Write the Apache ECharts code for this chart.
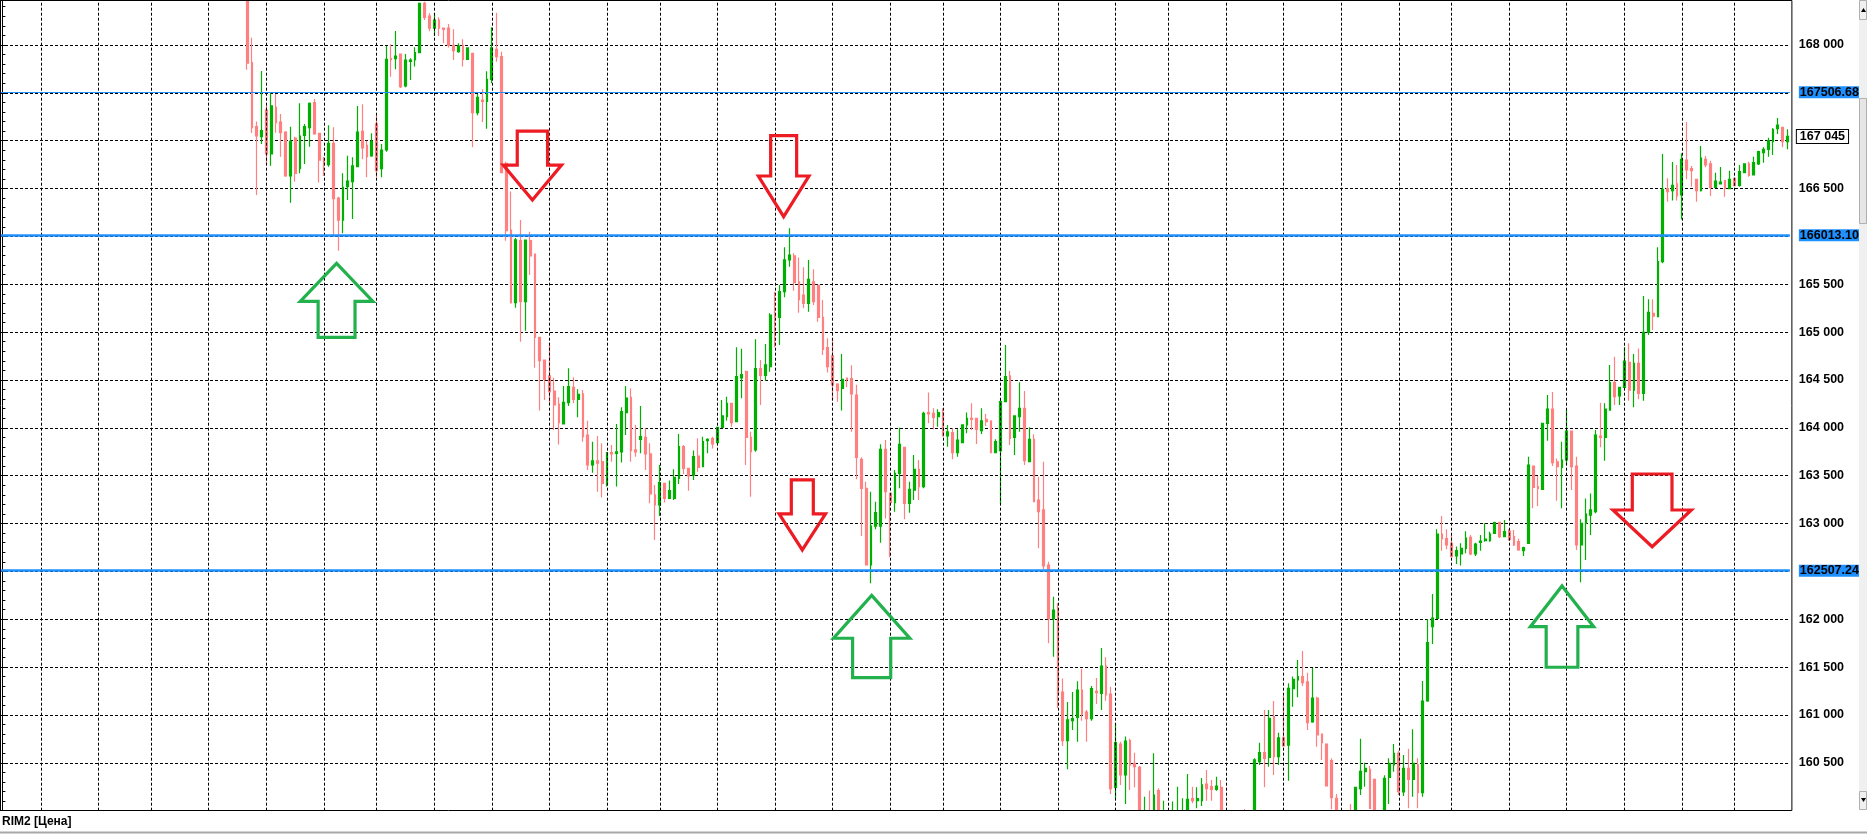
<!DOCTYPE html>
<html><head><meta charset="utf-8">
<script src="https://cdn.jsdelivr.net/npm/echarts@6/dist/echarts.min.js"></script>
<style>html,body{margin:0;padding:0;background:#fff;overflow:hidden}#chart{width:1867px;height:834px}</style>
</head><body><div id="chart"></div>
<script>
const symbolLabel = 'RIM2 [Цена]';
const firstBar = 51;
const slotCount = 373;
// [open, high, low, close] from bar 51 onward
const ohlc = [
[168500,168600,167740,167810],[167815,168076,167080,167136],[167147,167200,166433,167049],[167042,167728,166966,167105],
[167321,167362,166746,166861],[166861,167495,166739,167363],[167349,167488,167084,167188],[167195,167279,166833,167084],
[167091,167100,166624,166631],[166631,167147,166353,166993],[167028,167040,166572,166659],[166708,167390,166659,167049],
[167056,167175,166757,167147],[167136,167400,166938,167390],[167397,167436,167063,167070],[167077,167080,166562,166798],
[166805,166830,166631,166750],[166750,167161,166729,166973],[166973,167140,165997,166394],[166401,166415,165851,166171],
[166171,166659,166032,166513],[166520,166844,166380,166579],[166572,166826,166182,166736],[166729,167363,166729,167091],
[167098,167380,166805,166924],[166952,167000,166617,166833],[166840,167077,166833,166993],[167175,167265,166617,166687],
[166708,166966,166617,166903],[166903,167989,166885,167850],[167857,168007,167669,167847],[167857,168146,167746,167885],
[167906,167910,167551,167565],[167572,167906,167558,167843],[167829,167861,167634,167843],[167843,167976,167774,167920],
[167920,168442,167913,168435],[168435,168453,168261,168289],[168303,168331,168143,168177],[168177,168331,168094,168261],
[168261,168289,168094,168177],[168177,168180,168017,168164],[168177,168219,167975,167996],[167996,168164,167843,167941],
[167930,168017,167920,167989],[167996,168059,167774,167850],[167850,167976,167843,167969],[167913,167920,166931,167293],
[167293,167488,167265,167453],[167425,167537,167195,167411],[167411,167725,167126,167641],[167641,168184,167600,167969],
[167955,168338,167826,167878],[167878,167930,166659,166666],[166764,166780,165956,166060],[166067,166468,165300,165308],
[165308,165984,165256,165963],[165956,166172,164900,165318],[165318,165969,165015,165962],[165956,166050,165597,165796],
[165816,165820,164629,164946],[164946,164950,164180,164702],[164709,164710,164291,164507],[164542,164890,164256,164378],
[164385,164524,163978,164239],[164249,164319,163825,164054],[164040,164437,164040,164267],[164263,164622,164228,164430],
[164423,164528,164256,164298],[164298,164403,164110,164350],[164354,164396,163856,163908],[163925,164075,163560,163612],
[163612,163856,163532,163654],[163654,163915,163333,163630],[163647,163838,163271,163420],[163420,163741,163386,163741],
[163741,163821,163647,163727],[163734,164040,163386,163748],[163748,164214,163637,164169],[164159,164437,163925,164312],
[164319,164410,163647,163762],[163769,164030,163699,163748],[163880,164228,163734,163908],[163901,163995,163560,163727],
[163727,163838,163211,163309],[163299,163403,162828,163194],[163194,163612,163079,163427],[163420,163425,163219,163264],
[163264,163449,163260,163344],[163264,163567,163247,163483],[163473,163936,163413,163804],[163804,163821,163518,163577],
[163577,163580,163344,163497],[163507,163762,163455,163699],[163706,163890,163542,163588],[163594,163908,163594,163856],
[163866,163890,163734,163880],[163887,163908,163783,163831],[163845,164005,163838,164005],[164005,164291,164005,164124],
[164117,164326,164075,164256],[164256,164256,164012,164054],[164065,164841,164065,164535],[164521,164827,164308,164556],
[164587,164598,163612,163901],[163901,163960,163281,163751],[163769,164925,163751,164618],[164618,164709,164239,164549],
[164549,164876,164493,164657],[164639,165197,164587,165179],[165179,165423,164841,165162],[165155,165493,164866,165423],
[165423,165886,165364,165754],[165754,166084,165684,165806],[165796,165824,165433,165517],[165524,165781,165203,165340],
[165388,165677,165249,165301],[165301,165754,165214,165552],[165524,165656,165283,165318],[165489,165490,165109,165155],
[165155,165336,164761,164820],[164838,164935,164577,164639],[164751,164935,164291,164448],[164458,164465,164273,164388],
[164413,164772,164180,164507],[164521,164521,164423,164507],[164514,164653,163960,164354],[164343,164451,163462,163692],
[163671,163692,162870,163368],[163368,163438,162567,162567],[162567,163333,162376,162974],[162974,163229,162940,163114],
[162974,163828,162800,163775],[163775,163873,163054,163333],[163316,163316,162647,163218],[163218,163560,163124,163525],
[163525,164002,163368,163828],[163796,163796,163044,163211],[163211,163438,163114,163358],[163350,163716,163246,163567],
[163567,163664,163246,163385],[163385,164169,163368,164152],[164159,164368,164047,164145],[164152,164204,163984,164110],
[164117,164193,164012,164159],[164162,164204,163915,163915],[163915,164030,163803,163957],[163950,163995,163671,163741],
[163741,163984,163699,163873],[163845,164030,163845,164030],[164030,164159,163943,164099],[164099,164256,163977,164089],
[164099,164099,163831,163984],[163970,164204,163936,164072],[164089,164145,164019,164065],[164072,164072,163741,163741],
[163741,163880,163741,163856],[163762,164300,163204,164273],[164273,164866,164273,164535],[164542,164597,163821,163890],
[163901,164124,163716,164124],[164117,164476,163960,164204],[164204,164385,163612,163657],[163647,164005,163647,163880],
[163880,163932,163229,163229],[163246,163490,162741,163124],[163142,163647,162522,162557],[162567,162602,161749,162006],
[162006,162236,161609,162097],[162111,162167,161070,161226],[161240,161380,160676,160732],[160732,161136,160432,160948],
[160941,161240,160843,160962],[160976,161352,160721,161261],[161261,161484,160941,161010],[161031,161052,160721,160962],
[160962,161303,160941,161275],[161247,161387,161115,161233],[161226,161700,161052,161512],[161512,161603,161150,161209],
[161219,161296,160174,160230],[160244,160913,160129,160711],[160697,160721,160269,160373],[160373,160774,160070,160728],
[160732,160753,160216,160478],[160495,160606,160244,160460],[160453,160467,159850,159900],[159800,160147,159750,159950],
[159960,160210,159800,159850],[159900,160600,159880,160164],[160210,160234,159900,159950],[159900,160105,159850,159980],
[159950,159980,159800,159850],[159850,160095,159800,159950],[159900,160250,159850,159990],[159950,160130,159900,159990],
[159950,160384,159920,160119],[160126,160250,160077,160105],[160105,160244,160025,160126],[160105,160342,160049,160269],
[160279,160425,160105,160230],[160251,160321,160105,160223],[160223,160356,160209,160258],[160244,160321,159900,159950],
[159950,159980,159780,159850],[159800,159950,159750,159900],[159900,159940,159760,159820],[159820,159960,159780,159900],
[159950,160018,159850,159880],[159880,159990,159850,159950],[159950,160547,159920,160530],[160513,160711,160478,160606],
[160606,161052,160244,160547],[160557,161052,160460,160965],[160983,161146,160373,160564],[160564,160815,160478,160760],
[160760,161198,160676,160676],[160686,161331,160314,161278],[161275,161401,161087,161373],[161366,161575,161184,161401],
[161401,161669,161303,161338],[161345,161442,160843,160920],[160927,161491,160920,161177],[161177,161191,160669,160791],
[160801,160801,160530,160711],[160697,160697,160258,160258],[160523,160547,160014,160136],[160129,160175,159950,159980],
[159980,159990,159800,159850],[159850,159990,159800,159950],[159980,160070,159850,159900],[159900,160244,159880,160244],
[160230,160752,160164,160411],[160408,160502,160251,160443],[160432,160467,160025,160025],[160328,160328,159900,159950],
[159950,159990,159800,159850],[159850,160370,159820,160338],[160349,160547,160070,160495],[160478,160697,160408,160599],
[160599,160627,160164,160199],[160196,160582,160153,160443],[160443,160648,160025,160328],[160328,160850,160147,160495],
[160478,160547,160025,160189],[160189,161355,160147,161146],[161146,162000,161139,161756],[161923,162264,161741,162013],
[162010,162940,162010,162891],[162891,163079,162717,162842],[162842,162940,162731,162776],[162793,162884,162654,162654],
[162661,162759,162577,162717],[162682,162793,162563,162741],[162741,162919,162689,162849],[162856,162880,162668,162682],
[162682,162800,162661,162786],[162804,162880,162717,162818],[162821,163002,162811,162838],[162821,162915,162811,162891],
[162898,163019,162891,163009],[163012,163019,162849,162863],[162863,163037,162856,162915],[162922,162940,162821,162835],
[162863,162933,162765,162776],[162811,162845,162717,162724],[162717,162758,162661,162748],[162793,163699,162793,163611],
[163601,163601,163159,163378],[163385,163497,163183,163364],[163357,164047,163357,164047],[164047,164343,163866,164197],
[164197,164374,163601,163636],[163646,163681,163239,163594],[163587,163855,163159,163664],[163664,164186,163612,163967],
[163967,163967,163350,163594],[163601,163699,162724,162776],[162776,163044,162386,163002],[163002,163263,162619,163100],
[163089,163315,162880,163142],[163124,163977,163107,163925],[163915,164263,163796,163901],[163901,164256,163657,164197],
[164186,164657,164186,164472],[164472,164744,164239,164326],[164333,164423,164239,164423],[164423,164841,164423,164698],
[164684,164883,164284,164395],[164395,164771,164214,164674],[164674,164830,164298,164360],[164360,165377,164284,164998],
[164998,165343,164970,165207],[165196,165343,165022,165168],[165161,165886,165161,165736],[165736,166861,165719,166492],
[166499,166607,166363,166468],[166478,166777,166374,166534],[166548,166746,166374,166422],[166433,166868,166178,166805],
[166798,167195,166596,166694],[166708,166736,166520,166687],[166596,166596,166363,166478],[166478,166945,166468,166819],
[166805,166840,166722,166746],[166757,166791,166422,166513],[166513,166666,166513,166579],[166548,166725,166548,166568],
[166583,166583,166415,166502],[166499,166687,166499,166596],[166607,166607,166530,166530],[166534,166746,166520,166676],
[166666,166757,166659,166757],[166757,166781,166624,166638],[166642,166833,166642,166771],[166757,166896,166746,166885],
[166875,166931,166770,166910],[166910,167032,166833,167000],[166990,167129,166851,167119],[167126,167237,167070,167164],
[167140,167140,166931,166990],[166990,167119,166910,167045]
];
const gridBars = [8,20,31,43,55,67,78,90,102,114,126,137,149,161,173,185,196,208,220,232,243,255,267,279,291,302,314,326,338,350,361];
const levels = [167506.68, 166013.10, 162507.24];
const lastPrice = 167045;
const yMin = 160000, yMax = 168470, yStep = 500;
// arrow tip: [bar position, price, direction(+1 up / -1 down)]
const arrowTips = [
  [110.45,166380,-1],[162.81,166206,-1],[166.7,162724,-1],[343.8,162758,-1],
  [69.64,165719,1],[181.15,162249,1],[325.02,162348,1]
];
// arrow drawing sizes in px: [width, shaft width, head length, shaft length]
const arrowShapes = [
  [58.3,30.3,35,34],[50.6,26,40.7,40.3],[46.4,22,36,34],[78.3,39.7,36.7,36],
  [72.6,36.9,38,36],[76.2,38.1,42.8,39.3],[63.3,31.7,40.7,40.6]
];

const UP = '#00B000', DOWN = '#FF8080', BLUE = '#1E90FF';
const slotW = 4.805;
const cats = Array.from({length: slotCount}, (_, i) => String(i));
const candleData = cats.map((_, i) => {
  const r = ohlc[i - firstBar];
  return r ? [r[0], r[3], r[2], r[1]] : ['-', '-', '-', '-'];
});
const fmt = v => String(Math.round(v)).replace(/\B(?=(\d{3})+(?!\d))/g, ' ');
const FONT = 'Liberation Sans, Arial, sans-serif';

const chart = echarts.init(document.getElementById('chart'), null, {renderer: 'canvas'});
const gridLeft = -slotW / 2;
const gridW = slotCount * slotW;
const option = {
  animation: false,
  backgroundColor: '#fff',
  grid: {left: gridLeft, top: 0, width: gridW, height: 810.7, show: false},
  xAxis: [
    {type: 'category', data: cats, boundaryGap: true, show: false},
    {type: 'value', min: -0.5, max: slotCount - 0.5, show: false}
  ],
  yAxis: {
    type: 'value', position: 'right', offset: 2, min: yMin, max: yMax, interval: yStep,
    axisLine: {show: true, lineStyle: {color: '#000', width: 1}},
    axisTick: {show: true, length: 5, lineStyle: {color: '#000'}},
    minorTick: {show: true, splitNumber: 5, length: 3, lineStyle: {color: '#000'}},
    axisLabel: {margin: 7, color: '#000', fontFamily: FONT, fontWeight: 'bold', fontSize: 12.5,
      showMinLabel: false, showMaxLabel: false, formatter: v => fmt(v)},
    splitLine: {show: true, lineStyle: {color: '#000', type: [3, 2], width: 1}}
  },
  series: [
    {type: 'line', xAxisIndex: 0, data: [], z: 1, silent: true,
     markLine: {silent: true, symbol: ['none', 'none'], label: {show: false},
       lineStyle: {color: '#000', type: [3, 2], width: 1},
       data: gridBars.map(b => ({xAxis: b}))}},
    {type: 'candlestick', xAxisIndex: 0, data: candleData, barWidth: 2.3, z: 2,
     itemStyle: {color: UP, color0: DOWN, borderColor: UP, borderColor0: DOWN, borderWidth: 1.2}},
    {type: 'line', xAxisIndex: 0, data: [], z: 3, silent: true,
     markLine: {silent: true, symbol: ['none', 'none'],
       data: levels.map((v, i) => ({yAxis: v,
         lineStyle: {color: BLUE, width: i === 0 ? 1.2 : 2.6, type: 'solid'},
         label: {show: true, position: 'end', distance: 9, formatter: () => v.toFixed(2),
           backgroundColor: BLUE, color: '#000', fontFamily: FONT, fontWeight: 'bold', fontSize: 12.5,
           padding: [0, 1, 0, 1], lineHeight: 12}})).concat([
         {yAxis: lastPrice, lineStyle: {color: 'rgba(0,0,0,0)', width: 0},
          label: {show: true, position: 'end', distance: 7, formatter: () => fmt(lastPrice),
            backgroundColor: '#fff', borderColor: '#000', borderWidth: 1, color: '#000',
            fontFamily: FONT, fontWeight: 'bold', fontSize: 12.5, padding: [1, 3, 0, 3], lineHeight: 12}}
       ])}},
    {type: 'custom', xAxisIndex: 1, yAxisIndex: 0, z: 5, silent: true, clip: false,
     data: arrowTips, encode: {x: 0, y: 1},
     renderItem: (params, api) => {
       const s = arrowShapes[params.dataIndex];
       const p = api.coord([api.value(0), api.value(1)]);
       const d = api.value(2) > 0 ? 1 : -1;
       const tx = p[0], ty = p[1];
       const yw = ty + d * s[2], ys = yw + d * s[3];
       return {type: 'polygon', shape: {points: [[tx, ty], [tx + s[0] / 2, yw], [tx + s[1] / 2, yw], [tx + s[1] / 2, ys],
         [tx - s[1] / 2, ys], [tx - s[1] / 2, yw], [tx - s[0] / 2, yw]]},
         style: {fill: 'none', stroke: d > 0 ? '#22B14C' : '#ED1C24', lineWidth: 3.2, lineJoin: 'miter'}};
     }}
  ],
  graphic: [
    {type: 'rect', z: 100, silent: true, shape: {x: 0, y: 811, width: 1867, height: 23}, style: {fill: '#fff'}},
    {type: 'rect', z: 101, silent: true, shape: {x: 0.5, y: 0.5, width: 1791.4, height: 810}, style: {fill: 'none', stroke: '#000', lineWidth: 1}},
    {type: 'rect', z: 101, silent: true, shape: {x: 1859, y: 0, width: 8, height: 810}, style: {fill: '#f0f0f0'}},
    {type: 'rect', z: 102, silent: true, shape: {x: 1859.5, y: 0.5, width: 7, height: 19}, style: {fill: '#f0f0f0', stroke: '#b0b0b0'}},
    {type: 'polygon', z: 103, silent: true, shape: {points: [[1861, 12], [1866, 12], [1863.5, 8]]}, style: {fill: '#000'}},
    {type: 'rect', z: 102, silent: true, shape: {x: 1859.5, y: 98.5, width: 7, height: 125}, style: {fill: '#e6e6e6', stroke: '#b0b0b0'}},
    {type: 'rect', z: 102, silent: true, shape: {x: 1859.5, y: 791.5, width: 7, height: 18}, style: {fill: '#f0f0f0', stroke: '#b0b0b0'}},
    {type: 'polygon', z: 103, silent: true, shape: {points: [[1861, 798], [1866, 798], [1863.5, 802]]}, style: {fill: '#000'}},
    {type: 'text', z: 102, silent: true, x: 2, y: 816, style: {text: symbolLabel, fill: '#000', font: 'bold 12px ' + FONT}},
    {type: 'line', z: 102, silent: true, shape: {x1: 0, y1: 832.5, x2: 1867, y2: 832.5}, style: {stroke: '#a8a8a8', lineWidth: 2}}
  ]
};
chart.setOption(option);
</script></body></html>
